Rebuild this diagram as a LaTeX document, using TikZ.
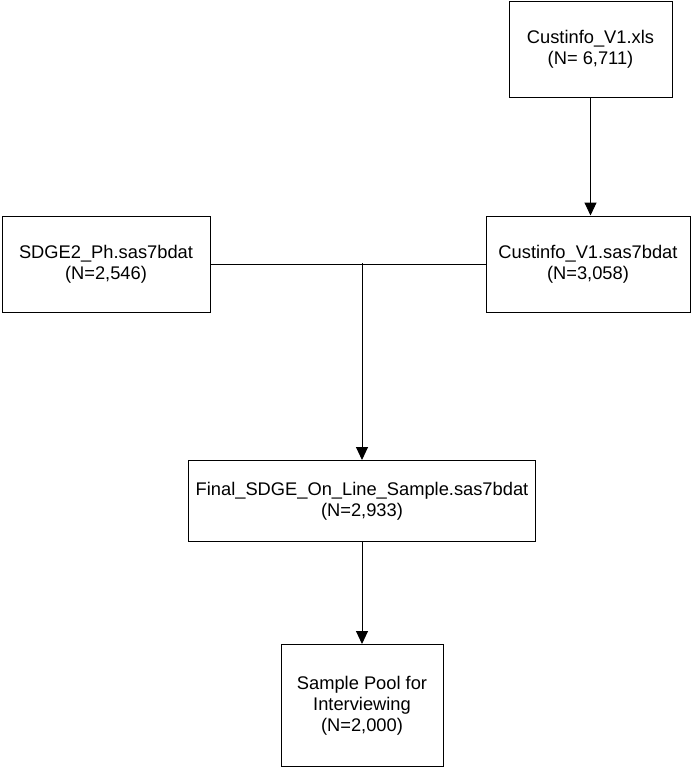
\documentclass[tikz,border=0pt]{standalone}
\usepackage{fontspec}
\setmainfont{Liberation Sans}
\usetikzlibrary{arrows.meta, positioning}

\begin{document}
\begin{tikzpicture}[
  x=1pt, y=-1pt,
  box/.style={draw, line width=1pt, align=center, inner sep=4pt,
    font=\fontsize{18.3}{21}\selectfont},
  line/.style={line width=1pt},
  arr/.style={line, -{Triangle[length=13pt, width=12pt]}}
]
\useasboundingbox (0,0) rectangle (695,768);

\node[box, minimum width=163pt, minimum height=95pt] (xls) at (590.5,49.5)
  {Custinfo\_V1.xls\\(N= 6,711)};
\node[box, below=118pt of xls, xshift=-2.5pt, minimum width=204pt, minimum height=96pt] (cust)
  {Custinfo\_V1.sas7bdat\\(N=3,058)};
\node[box, left=275pt of cust, minimum width=208pt, minimum height=96pt] (sdge)
  {SDGE2\_Ph.sas7bdat\\(N=2,546)};

% merge point on the joining line
\coordinate (join) at (362,263);
\node[box, below=197pt of join, minimum width=347pt, minimum height=81pt] (final)
  {Final\_SDGE\_On\_Line\_Sample.sas7bdat\\(N=2,933)};
\node[box, below=102pt of final, minimum width=162pt, minimum height=122pt] (pool)
  {Sample Pool for\\Interviewing\\(N=2,000)};

\draw[arr] (xls.south) -- (xls.south |- cust.north);
\draw[line] (sdge.east) -- (cust.west);
\draw[arr] (join) -- (final.north);
\draw[arr] (final) -- (pool);
\end{tikzpicture}
\end{document}
